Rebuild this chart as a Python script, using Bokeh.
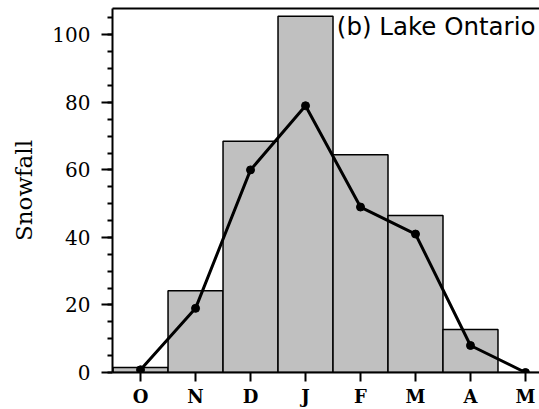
from bokeh.plotting import figure
from bokeh.models import (ColumnDataSource, LinearAxis, SingleIntervalTicker,
                          FixedTicker, Label, Range1d)
from bokeh.embed import file_html
from bokeh.resources import INLINE

months = ["O", "N", "D", "J", "F", "M", "A", "M"]
bar_snowfall = [1.5, 24.2, 68.5, 105.5, 64.5, 46.5, 12.7, 0.0]
line_snowfall = [0.8, 19.0, 60.0, 79.0, 49.0, 41.0, 8.0, 0.0]
x_pos = list(range(len(months)))

src = ColumnDataSource(dict(x=x_pos, bar=bar_snowfall, line=line_snowfall))

p = figure(width=539, height=409, output_backend="svg", toolbar_location=None,
           x_range=Range1d(-0.51, 7.255), y_range=Range1d(0, 107.8),
           min_border_left=112, min_border_right=0, min_border_top=8,
           min_border_bottom=10)
p.xgrid.visible = False
p.ygrid.visible = False
p.outline_line_color = None
p.background_fill_color = "white"
p.border_fill_color = "white"

p.vbar(x="x", top="bar", bottom=0, width=1, source=src,
       fill_color="#c0c0c0", line_color="black", line_width=1.5)
p.line(x="x", y="line", source=src, line_color="black", line_width=3)
p.scatter(x="x", y="line", source=src, size=8, color="black")

# y axis
ya = p.yaxis[0]
ya.ticker = SingleIntervalTicker(interval=20, num_minor_ticks=4)
ya.axis_line_width = 2
ya.major_tick_line_width = 2
ya.minor_tick_line_width = 2
ya.major_tick_out = 11
ya.major_tick_in = 0
ya.minor_tick_out = 5
ya.minor_tick_in = 0
ya.major_label_standoff = 11
ya.major_label_text_font = "DejaVu Serif"
ya.major_label_text_font_size = "20px"
ya.major_label_text_font_style = "normal"
ya.major_label_text_color = "black"
ya.axis_label = "Snowfall"
ya.axis_label_text_font = "DejaVu Serif"
ya.axis_label_text_font_style = "normal"
ya.axis_label_text_font_size = "23px"
ya.axis_label_standoff = 12
ya.axis_label_text_color = "black"

# x axis
xa = p.xaxis[0]
xa.ticker = FixedTicker(ticks=x_pos)
xa.major_label_overrides = {i: m for i, m in enumerate(months)}
xa.axis_line_width = 2
xa.major_tick_line_width = 2
xa.major_tick_out = 9
xa.major_tick_in = 0
xa.minor_tick_out = 0
xa.minor_tick_in = 0
xa.major_label_standoff = 4
xa.major_label_text_font = "DejaVu Serif"
xa.major_label_text_font_size = "18px"
xa.major_label_text_font_style = "bold"
xa.major_label_text_color = "black"

# top frame line
top = LinearAxis(ticker=FixedTicker(ticks=[]), axis_line_width=2,
                 major_tick_out=0, major_tick_in=0, minor_tick_out=0,
                 minor_tick_in=0, major_label_text_font_size="0px")
p.add_layout(top, "above")

p.add_layout(Label(x=3.57, y=102.5, text="(b) Lake Ontario",
                   text_font="DejaVu Sans", text_font_size="24.5px",
                   text_baseline="alphabetic", text_color="black"))

open("out.html", "w").write(file_html(p, INLINE))
